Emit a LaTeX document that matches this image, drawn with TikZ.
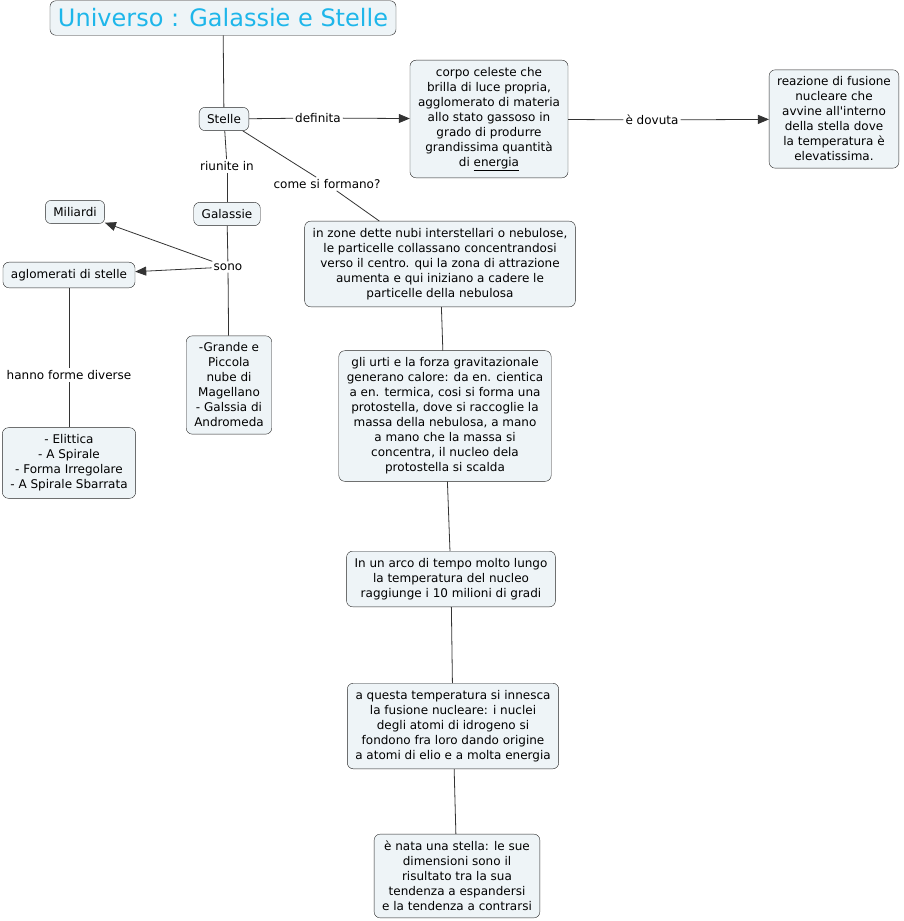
\documentclass[tikz,border=0pt]{standalone}
\usepackage{fontspec}
\setmainfont{DejaVu Sans}
\usetikzlibrary{arrows.meta}
\definecolor{boxfill}{HTML}{EEF4F7}
\definecolor{titlecyan}{HTML}{1EB6EA}
\begin{document}
\begin{tikzpicture}[x=1pt, y=-1pt,
    concept/.style={draw=black!85, fill=boxfill, rounded corners=6pt, align=center,
        inner xsep=8pt, inner ysep=7pt, font=\fontsize{12}{15}\selectfont},
    link/.style={inner sep=2pt, font=\fontsize{12}{15}\selectfont},
    conn/.style={draw=black!80, line width=0.8pt},
    arr/.style={conn, -{Triangle[length=11pt, width=9pt]}}]
    \useasboundingbox (0,0) rectangle (904,921);
    % concetti
    \node[concept, inner ysep=8pt, font=\fontsize{24}{28}\selectfont, text=titlecyan] (universo) at (223,18) {Universo : Galassie e Stelle};
    \node[concept] (stelle) at (224,119) {Stelle};
    \node[concept] (galassie) at (227,214) {Galassie};
    \node[concept] (miliardi) at (75,212) {Miliardi};
    \node[concept] (aglomerati) at (69,275) {aglomerati di stelle};
    \node[concept] (forme) at (69,463) {- Elittica\\- A Spirale\\- Forma Irregolare\\- A Spirale Sbarrata};
    \node[concept] (magellano) at (229,385) {-Grande e\\Piccola\\nube di\\Magellano\\- Galssia di\\Andromeda};
    \node[concept] (corpo) at (489,119) {corpo celeste che\\brilla di luce propria,\\agglomerato di materia\\allo stato gassoso in\\grado di produrre\\grandissima quantità\\di \underline{energia}};
    \node[concept] (fusione) at (834,119) {reazione di fusione\\nucleare che\\avvine all{\textquotesingle}interno\\della stella dove\\la temperatura è\\elevatissima.};
    \node[concept] (nebulose) at (440,264) {in zone dette nubi interstellari o nebulose,\\le particelle collassano concentrandosi\\verso il centro. qui la zona di attrazione\\aumenta e qui iniziano a cadere le\\particelle della nebulosa};
    \node[concept] (protostella) at (445,416) {gli urti e la forza gravitazionale\\generano calore: da en. cientica\\a en. termica, cosi si forma una\\protostella, dove si raccoglie la\\massa della nebulosa, a mano\\a mano che la massa si\\concentra, il nucleo dela\\protostella si scalda};
    \node[concept] (nucleo) at (451,579) {In un arco di tempo molto lungo\\la temperatura del nucleo\\raggiunge i 10 milioni di gradi};
    \node[concept] (innesco) at (453,726) {a questa temperatura si innesca\\la fusione nucleare: i nuclei\\degli atomi di idrogeno si\\fondono fra loro dando origine\\a atomi di elio e a molta energia};
    \node[concept] (nascita) at (457,876) {è nata una stella: le sue\\dimensioni sono il\\risultato tra la sua\\tendenza a espandersi\\e la tendenza a contrarsi};
    % frasi legame
    \node[link] (definita) at (318,118) {definita};
    \node[link] (dovuta) at (652,120) {è dovuta};
    \node[link] (riunite) at (227,166) {riunite in};
    \node[link] (formano) at (327,184) {come si formano?};
    \node[link] (sono) at (228,267) {sono};
    \node[link] (diverse) at (69,375) {hanno forme diverse};
    % collegamenti
    \draw[conn] (universo) -- (stelle);
    \draw[conn] (stelle) -- (definita);
    \draw[arr] (definita) -- (corpo);
    \draw[conn] (corpo) -- (dovuta);
    \draw[arr] (dovuta) -- (fusione);
    \draw[conn] (stelle) -- (riunite);
    \draw[conn] (riunite) -- (galassie);
    \draw[conn] (stelle) -- (formano);
    \draw[conn] (formano) -- (nebulose);
    \draw[conn] (galassie) -- (sono);
    \draw[arr] (sono) -- (miliardi);
    \draw[arr] (sono) -- (aglomerati);
    \draw[conn] (sono) -- (magellano);
    \draw[conn] (aglomerati) -- (diverse);
    \draw[conn] (diverse) -- (forme);
    \draw[conn] (nebulose) -- (protostella);
    \draw[conn] (protostella) -- (nucleo);
    \draw[conn] (nucleo) -- (innesco);
    \draw[conn] (innesco) -- (nascita);
\end{tikzpicture}
\end{document}
